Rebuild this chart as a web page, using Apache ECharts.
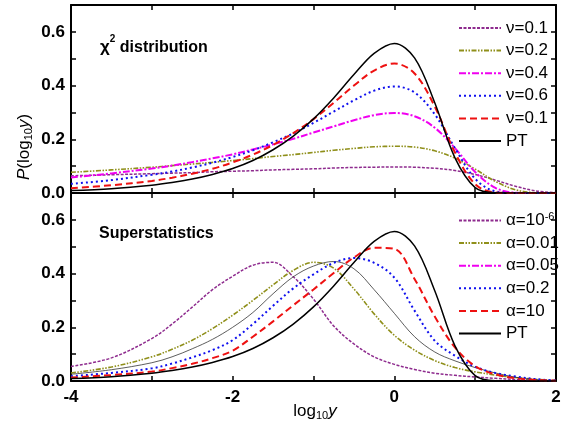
<!DOCTYPE html>
<html><head><meta charset="utf-8">
<script src="https://cdn.jsdelivr.net/npm/echarts@6/dist/echarts.min.js"></script>
<style>html,body{margin:0;padding:0;background:#fff}#c{width:574px;height:426px}</style>
</head><body><div id="c"></div>
<script>
// x positions (log10 y)
const X = [-4,-3.5,-3,-2.75,-2.5,-2.25,-2,-1.75,-1.5,-1.25,-1,-0.75,-0.5,-0.25,0,0.25,0.5,0.75,1,1.25,1.5,1.75,2];
// top panel: chi^2 distribution
const nu01 = [.064,.068,.072,.074,.076,.079,.081,.083,.086,.088,.090,.093,.095,.096,.097,.096,.092,.084,.069,.048,.025,.008,.001];
const nu02 = [.077,.086,.096,.102,.108,.114,.121,.128,.136,.143,.151,.159,.166,.172,.174,.171,.157,.130,.089,.043,.012,.001,0];
const nu04 = [.058,.073,.091,.102,.115,.129,.144,.162,.181,.202,.225,.248,.271,.290,.298,.286,.243,.167,.078,.019,.001,0,0];
const nu06 = [.034,.048,.068,.080,.095,.113,.134,.159,.189,.222,.261,.303,.345,.381,.397,.374,.293,.167,.053,.006,0,0,0];
const nu08 = [.018,.029,.045,.057,.072,.090,.114,.143,.179,.223,.275,.336,.400,.456,.482,.445,.322,.151,.033,.002,0,0,0];
const pt   = [.009,.016,.029,.039,.052,.069,.091,.121,.161,.212,.276,.354,.441,.520,.557,.503,.336,.131,.020,.001,0,0,0];
// bottom panel: superstatistics
const a1e6 = [.054,.086,.158,.212,.275,.340,.390,.431,.442,.388,.305,.205,.138,.090,.062,.043,.029,.021,.015,.010,.006,.003,.001];
const a001 = [.030,.052,.090,.118,.152,.195,.245,.300,.358,.412,.442,.420,.343,.250,.170,.115,.076,.050,.034,.022,.013,.006,.002];
const a005 = [.025,.042,.068,.090,.120,.155,.200,.255,.325,.388,.428,.445,.418,.340,.252,.165,.108,.075,.050,.030,.014,.005,.001];
const a02  = [.018,.030,.047,.065,.088,.115,.152,.212,.280,.345,.397,.440,.458,.440,.385,.262,.150,.094,.053,.030,.017,.007,.002];
const a10  = [.013,.022,.035,.048,.064,.085,.113,.165,.222,.282,.341,.402,.460,.496,.492,.380,.240,.125,.055,.025,.010,.004,.001];
const topNames = ['ν=0.1','ν=0.2','ν=0.4','ν=0.6','ν=0.1','PT'];
const botNames = ['α=10-6','α=0.01','α=0.05','α=0.2','α=10','PT'];

const FONT = 'Liberation Sans, Arial, sans-serif';
const C = {pu:'#8e2b8e', ol:'#8f8f1a', ma:'#f000f0', bl:'#1010ee', re:'#ee1111', bk:'#000'};
const S = {
  pu:{color:C.pu,width:1.5,type:[3,1.5]},
  ol:{color:C.ol,width:1.6,type:[5,1.5,1.5,1.5,1.5,1.5]},
  ma:{color:C.ma,width:2,type:[7,2,2,2]},
  bl:{color:C.bl,width:2,type:[2,3]},
  re:{color:C.re,width:2,type:[7,4]},
  bk:{color:C.bk,width:1.5,type:'solid'}
};
function mk(id, vals, xi, yi, st){
  return {type:'line', name:id, xAxisIndex:xi, yAxisIndex:yi, symbol:'none', smooth:0.35,
    data: vals ? X.map((x,i)=>[x, vals[i]]) : [],
    lineStyle: st, itemStyle:{color: st.color}, emphasis:{disabled:true}, animation:false};
}
const labelMap = {t0:topNames[0],t1:topNames[1],t2:topNames[2],t3:topNames[3],t4:topNames[4],t5:topNames[5],
  b0:'{t|α=10}{s|-6}',b1:botNames[1],b2:botNames[2],b3:botNames[3],b4:botNames[4],b5:botNames[5]};

function xAx(g, pos, lab){
  return {type:'value', gridIndex:g, position:pos, min:-4, max:2, interval:1,
    axisLine:{onZero:false, lineStyle:{color:'#000', width:2}},
    axisTick:{inside:true, length:5, lineStyle:{color:'#000', width:1.5}},
    splitLine:{show:false},
    axisLabel:{show:lab, margin:8, color:'#000', fontFamily:FONT, fontWeight:'bold', fontSize:17,
      formatter: v => (Math.round(v) % 2 === 0 ? String(Math.round(v)) : '')}};
}
function yAx(g, pos, lab){
  return {type:'value', gridIndex:g, position:pos, min:0, max:0.7, interval:0.1,
    axisLine:{onZero:false, lineStyle:{color:'#000', width:2}},
    axisTick:{inside:true, length:5, lineStyle:{color:'#000', width:1.5}},
    splitLine:{show:false},
    axisLabel:{show:lab, margin:6, color:'#000', fontFamily:FONT, fontWeight:'bold', fontSize:17,
      formatter: v => { const k = Math.round(v*10); return (k % 2 === 0 && k <= 6) ? (k/10).toFixed(1) : ''; }}};
}
const legendBase = {orient:'vertical', itemWidth:42, itemHeight:17, itemGap:5.6, itemStyle:{opacity:0},
  textStyle:{fontSize:17, fontFamily:FONT, color:'#000', rich:{t:{fontSize:17, fontFamily:FONT, color:'#000'}, s:{fontSize:11, fontFamily:FONT, color:'#000', verticalAlign:'top', padding:[0,0,7,0]}}},
  formatter: n => labelMap[n], selectedMode:false};

const subRich = {
  a:{fontSize:17, fontFamily:FONT, fill:'#000', lineHeight:20, verticalAlign:'middle'},
  s:{fontSize:11, fontFamily:FONT, fill:'#000', lineHeight:12, verticalAlign:'bottom'},
  i:{fontSize:17, fontFamily:FONT, fontStyle:'italic', fill:'#000', lineHeight:20, verticalAlign:'middle'}};

const chart = echarts.init(document.getElementById('c'), null, {renderer:'canvas'});
chart.setOption({
  backgroundColor:'#fff',
  animation:false,
  grid:[{left:71, top:5, width:485, height:188},{left:71, top:193, width:485, height:188}],
  xAxis:[xAx(0,'bottom',false), xAx(0,'top',false), xAx(1,'bottom',true), xAx(1,'top',false)],
  yAxis:[yAx(0,'left',true), yAx(0,'right',false), yAx(1,'left',true), yAx(1,'right',false)],
  legend:[
    Object.assign({}, legendBase, {left:453, top:14.5, data:['t0','t1','t2','t3','t4','t5']}),
    Object.assign({}, legendBase, {left:453, top:206.5, data:['b0','b1','b2','b3','b4','b5']})
  ],
  series:[
    mk('t0', nu01, 0, 0, S.pu), mk('t1', nu02, 0, 0, S.ol), mk('t2', nu04, 0, 0, S.ma),
    mk('t3', nu06, 0, 0, S.bl), mk('t4', nu08, 0, 0, S.re), mk('t5', pt, 0, 0, S.bk),
    mk('b0', a1e6, 2, 2, S.pu), mk('b1', a001, 2, 2, S.ol), mk('b2', null, 2, 2, S.ma),
    mk('b2curve', a005, 2, 2, {color:'#333', width:0.8, type:'solid'}),
    mk('b3', a02, 2, 2, S.bl), mk('b4', a10, 2, 2, S.re), mk('b5', pt, 2, 2, S.bk)
  ],
  graphic:[
    {type:'text', left:100, top:34, style:{text:'{c|χ}{s|2}{t| distribution}', rich:{
      c:{fontSize:17, fontFamily:FONT, fontWeight:'bold', fill:'#000', lineHeight:22, verticalAlign:'bottom'},
      s:{fontSize:10, fontFamily:FONT, fontWeight:'bold', fill:'#000', verticalAlign:'top', lineHeight:22},
      t:{fontSize:16, fontFamily:FONT, fontWeight:'bold', fill:'#000', lineHeight:22, verticalAlign:'bottom'}}}},
    {type:'text', left:99, top:226, style:{text:'Superstatistics', fontSize:16, fontFamily:FONT, fontWeight:'bold', fill:'#000'}},
    {type:'text', x:315, y:411, style:{text:'{a|log}{s|10}{i|y}', align:'center', verticalAlign:'middle', rich:subRich}},
    {type:'text', x:24, y:147, rotation:Math.PI/2, style:{text:'{i|P}{a|(log}{s|10}{i|y}{a|)}', align:'center', verticalAlign:'middle', rich:subRich}}
  ]
});
</script></body></html>
